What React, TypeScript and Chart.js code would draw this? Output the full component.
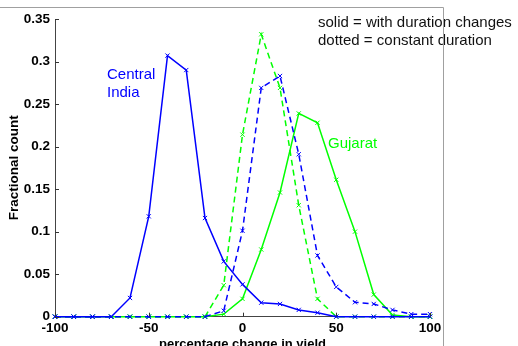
import React, { useEffect, useRef } from "react";
import { Chart, registerables } from "chart.js";
Chart.register(...registerables);

const xValues = [-100, -90, -80, -70, -60, -50, -40, -30, -20, -10, 0, 10, 20, 30, 40, 50, 60, 70, 80, 90, 100];
const centralWithDuration = [0, 0, 0, 0, 0.022, 0.118, 0.307, 0.29, 0.116, 0.065, 0.038, 0.0165, 0.015, 0.008, 0.0047, 0, 0, 0, 0, 0, 0];
const centralConstant = [0, 0, 0, 0, 0, 0, 0, 0, 0, 0.007, 0.101, 0.269, 0.283, 0.191, 0.072, 0.035, 0.017, 0.015, 0.008, 0.003, 0.003];
const gujaratWithDuration = [0, 0, 0, 0, 0, 0, 0, 0, 0, 0.003, 0.021, 0.079, 0.146, 0.239, 0.228, 0.161, 0.1, 0.026, 0.002, 0, 0];
const gujaratConstant = [0, 0, 0, 0, 0, 0, 0, 0, 0, 0.037, 0.214, 0.332, 0.269, 0.131, 0.021, 0, 0, 0, 0, 0, 0];
const xTicks = [-100, -50, 0, 50, 100];
const yTicks = [0, 0.05, 0.1, 0.15, 0.2, 0.25, 0.3, 0.35];

const BLUE = "#0000ff";
const GREEN = "#00ff00";
const FONT = "'Liberation Sans', Arial, Helvetica, sans-serif";

const toPoints = (ys: number[]) => xValues.map((x, i) => ({ x, y: ys[i] }));

const ds = (label: string, ys: number[], color: string, dashed: boolean) => ({
  label,
  data: toPoints(ys),
  borderColor: color,
  backgroundColor: color,
  borderWidth: 1.5,
  borderDash: dashed ? [6, 4] : [],
  pointStyle: "crossRot" as const,
  pointRadius: 3,
  pointBorderWidth: 1,
  pointBorderColor: color,
  tension: 0,
  fill: false,
  clip: false as any,
});

const decorPlugin = {
  id: "decor",
  afterDatasetsDraw(chart: any) {
    const { ctx } = chart;
    const xs = chart.scales.x;
    const ys = chart.scales.y;
    const area = chart.chartArea;
    ctx.save();
    ctx.strokeStyle = "#333";
    ctx.lineWidth = 1;
    ctx.beginPath();
    xTicks.forEach((v) => {
      const px = Math.round(xs.getPixelForValue(v)) + 0.5;
      ctx.moveTo(px, area.bottom);
      ctx.lineTo(px, area.bottom - 4);
    });
    yTicks.forEach((v) => {
      const py = Math.round(ys.getPixelForValue(v)) + 0.5;
      ctx.moveTo(area.left, py);
      ctx.lineTo(area.left + 4, py);
    });
    ctx.stroke();

    ctx.textBaseline = "alphabetic";
    ctx.textAlign = "left";
    ctx.font = `15px ${FONT}`;
    ctx.fillStyle = BLUE;
    ctx.fillText("Central", 107, 79);
    ctx.fillText("India", 107, 97);
    ctx.fillStyle = GREEN;
    ctx.fillText("Gujarat", 328, 148);
    ctx.fillStyle = "#111";
    ctx.fillText("solid = with duration changes", 318, 27);
    ctx.fillText("dotted = constant duration", 318, 45);

    ctx.strokeStyle = "#a0a0a0";
    ctx.beginPath();
    ctx.moveTo(0, 7.5);
    ctx.lineTo(443.5, 7.5);
    ctx.lineTo(443.5, 346);
    ctx.stroke();
    ctx.restore();
  },
};

export default function App() {
  const ref = useRef<HTMLCanvasElement>(null);
  useEffect(() => {
    if (!ref.current) return;
    const chart = new Chart(ref.current, {
      type: "line",
      data: {
        datasets: [
          ds("Central India (with duration changes)", centralWithDuration, BLUE, false),
          ds("Central India (constant duration)", centralConstant, BLUE, true),
          ds("Gujarat (with duration changes)", gujaratWithDuration, GREEN, false),
          ds("Gujarat (constant duration)", gujaratConstant, GREEN, true),
        ],
      },
      options: {
        animation: false,
        responsive: false,
        devicePixelRatio: 1,
        layout: { padding: { left: 0, right: 88, top: 19, bottom: 0 } },
        plugins: { legend: { display: false }, tooltip: { enabled: false } },
        scales: {
          x: {
            type: "linear",
            min: -100,
            max: 100,
            afterFit: (s: any) => {
              s.height = 29.3;
            },
            afterBuildTicks: (s: any) => {
              s.ticks = xTicks.map((v) => ({ value: v }));
            },
            ticks: {
              padding: 3,
              color: "#000",
              font: { family: FONT, size: 13.5, weight: "bold" },
              maxRotation: 0,
              callback: (v: any) => String(v),
            },
            grid: { display: false, drawTicks: false },
            border: { display: true, color: "#444", width: 1 },
            title: {
              display: true,
              text: "percentage change in yield",
              color: "#000",
              font: { family: FONT, size: 13, weight: "bold", lineHeight: 0.5 },
              padding: { top: 0, bottom: -2 },
            },
          },
          y: {
            type: "linear",
            min: 0,
            max: 0.35,
            afterFit: (s: any) => {
              s.width = 55;
            },
            afterBuildTicks: (s: any) => {
              s.ticks = yTicks.map((v) => ({ value: v }));
            },
            ticks: {
              padding: 5,
              color: "#000",
              font: { family: FONT, size: 13.5, weight: "bold" },
              callback: (v: any) => String(Math.round(Number(v) * 100) / 100),
            },
            grid: { display: false, drawTicks: false },
            border: { display: true, color: "#444", width: 1 },
            title: {
              display: true,
              text: "Fractional count",
              color: "#000",
              font: { family: FONT, size: 13.5, weight: "bold" },
              padding: { top: 6, bottom: 0 },
            },
          },
        },
      },
      plugins: [decorPlugin],
    } as any);
    return () => chart.destroy();
  }, []);
  return (
    <div style={{ position: "absolute", left: 0, top: 0, width: 518, height: 346, background: "#fff" }}>
      <canvas ref={ref} width={518} height={346} style={{ display: "block" }} />
    </div>
  );
}
